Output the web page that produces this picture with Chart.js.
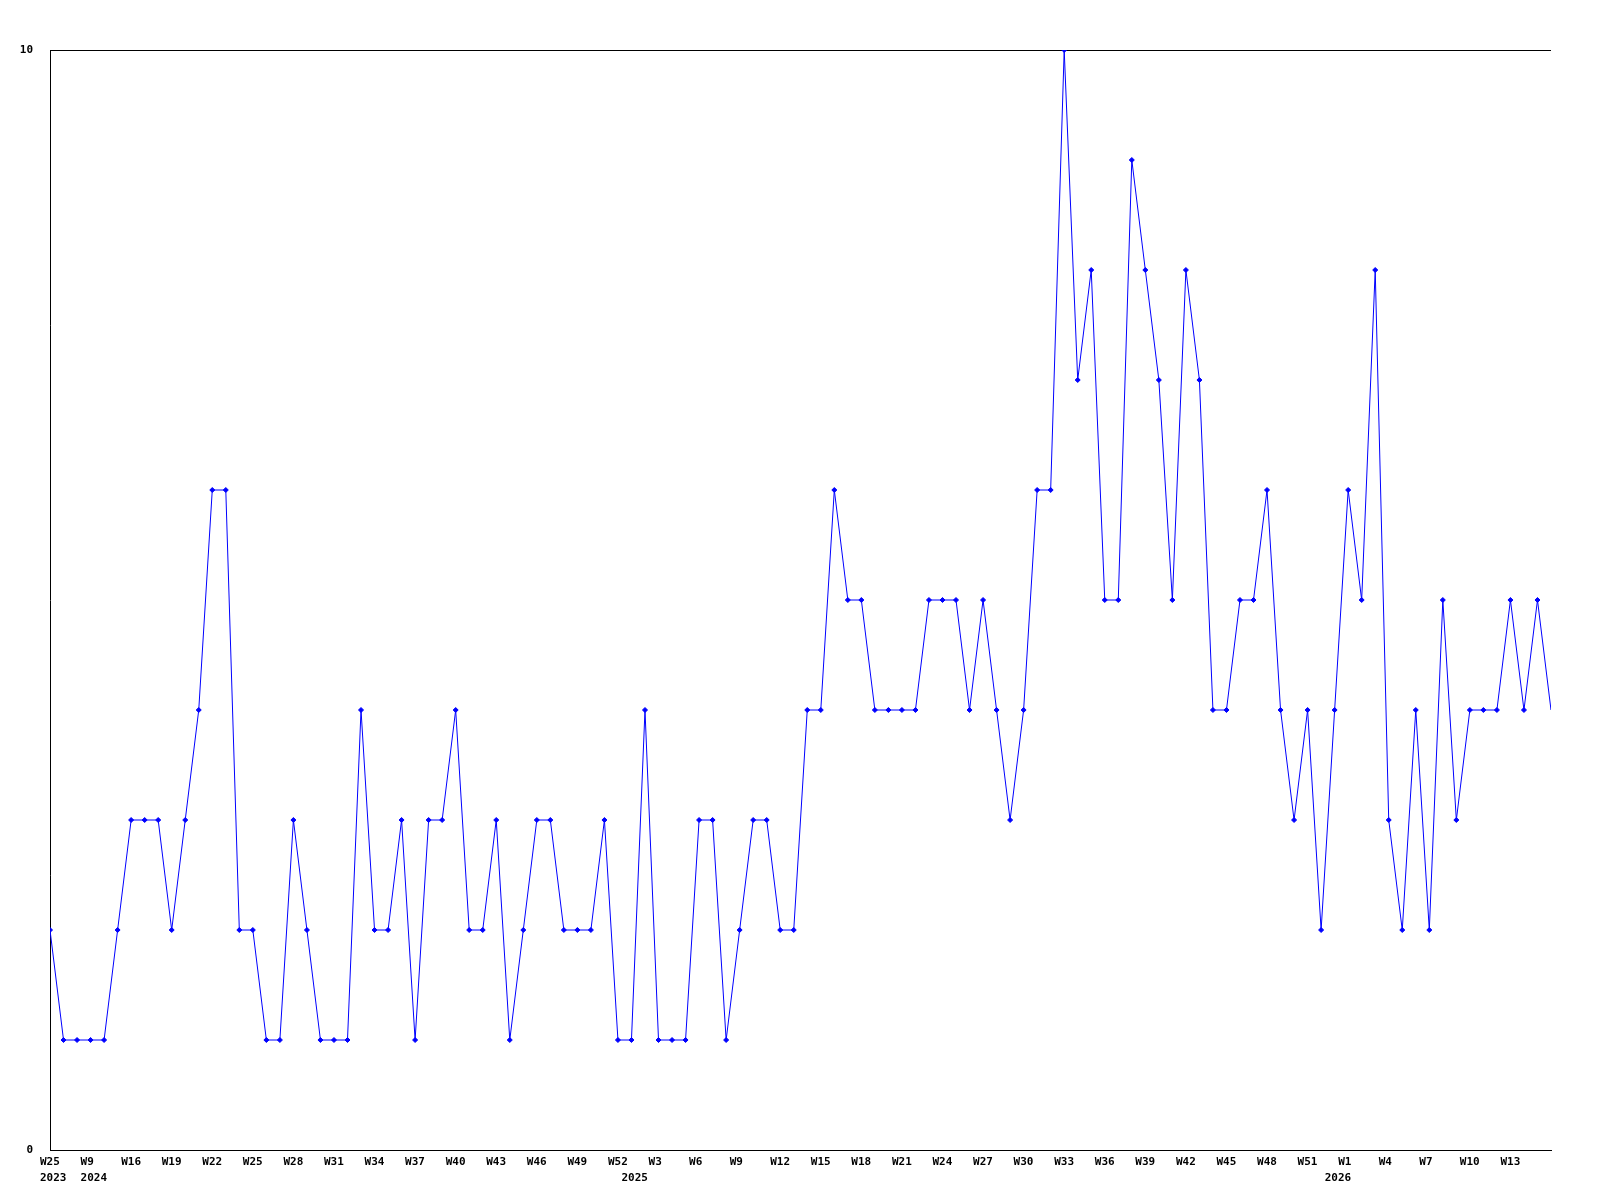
<!DOCTYPE html>
<html>
<head>
<meta charset="utf-8">
<script src="https://cdn.jsdelivr.net/npm/chart.js@4/dist/chart.umd.min.js"></script>
<style>
html,body{margin:0;padding:0;background:#fff}
#wrap{width:1600px;height:1200px}
</style>
</head>
<body>
<div id="wrap"><canvas id="c" width="1600" height="1200"></canvas></div>
<script>
// Series values, one per week
const values = [
  2,1,1,1,1,2,3,3,3,2, 3,4,6,6,2,2,1,1,3,2,
  1,1,1,4,2,2,3,1,3,3, 4,2,2,3,1,2,3,3,2,2,
  2,3,1,1,4,1,1,1,3,3, 1,2,3,3,2,2,4,4,6,5,
  5,4,4,4,4,5,5,5,4,5, 4,3,4,6,6,10,7,8,5,5,
  9,8,7,5,8,7,4,4,5,5, 6,4,3,4,2,4,6,5,8,3,
  2,4,2,5,3,4,4,4,5,4, 5,4
];

// Week tick labels and the point index they sit on
const weekTickIndex = [0,3,6,9,12,15,18,21,24,27,30,33,36,39,42,45,48,51,54,57,60,63,66,69,72,75,78,81,84,87,90,93,96,99,102,105,108];
const weekTickLabels = ['W25','W9','W16','W19','W22','W25','W28','W31','W34','W37','W40','W43','W46','W49','W52','W3','W6','W9','W12','W15','W18','W21','W24','W27','W30','W33','W36','W39','W42','W45','W48','W51','W1','W4','W7','W10','W13'];

// Year tick labels and the point index they sit on
const yearTickIndex = [0,3,43,95];
const yearTickLabels = ['2023','2024','2025','2026'];

// Y axis ticks
const yTicks = [0,10];

const FONT = {family: '"DejaVu Sans Mono", "Liberation Mono", monospace', size: 11, weight: 'bold'};

const points = values.map((v, i) => ({x: i, y: v}));

function labelFor(idxArr, lblArr) {
  return function(value) {
    const k = idxArr.indexOf(value);
    return k >= 0 ? lblArr[k] : '';
  };
}

new Chart(document.getElementById('c'), {
  type: 'line',
  data: {
    datasets: [{
      data: points,
      borderColor: '#0000ff',
      backgroundColor: '#0000ff',
      borderWidth: 1,
      tension: 0,
      pointStyle: 'rectRot',
      pointRadius: ctx => ctx.dataIndex === values.length - 1 ? 0 : 2.5,
      pointBorderWidth: 1,
      pointBorderColor: '#0000ff',
      pointBackgroundColor: '#0000ff',
      fill: false
    }]
  },
  options: {
    responsive: false,
    animation: false,
    layout: {padding: {top: 50, right: 49, left: 0, bottom: 0}},
    plugins: {legend: {display: false}, tooltip: {enabled: false}},
    scales: {
      x: {
        type: 'linear',
        position: 'bottom',
        weight: 0,
        min: 0,
        max: values.length - 1,
        grid: {display: false, drawTicks: false},
        border: {display: true, color: '#000', width: 1},
        afterBuildTicks: s => { s.ticks = weekTickIndex.map(v => ({value: v})); },
        afterFit: s => { s.height = 22; },
        ticks: {
          autoSkip: false, maxRotation: 0, minRotation: 0,
          align: 'start', labelOffset: -10, padding: 6,
          color: '#000', font: FONT,
          callback: labelFor(weekTickIndex, weekTickLabels)
        }
      },
      x2: {
        type: 'linear',
        position: 'bottom',
        weight: 1,
        min: 0,
        max: values.length - 1,
        grid: {display: false, drawTicks: false},
        border: {display: false},
        afterBuildTicks: s => { s.ticks = yearTickIndex.map(v => ({value: v})); },
        afterFit: s => { s.height = 28; },
        ticks: {
          autoSkip: false, maxRotation: 0, minRotation: 0,
          align: 'start', labelOffset: -10, padding: 0,
          color: '#000', font: FONT,
          callback: labelFor(yearTickIndex, yearTickLabels)
        }
      },
      y: {
        position: 'left',
        min: 0,
        max: 10,
        afterBuildTicks: s => { s.ticks = yTicks.map(v => ({value: v})); },
        afterFit: s => { s.width = 50; },
        grid: {display: true, drawTicks: false, color: '#000', lineWidth: 1},
        border: {display: true, color: '#000', width: 1},
        ticks: {padding: 17, color: '#000', font: FONT}
      }
    }
  }
});
</script>
</body>
</html>
